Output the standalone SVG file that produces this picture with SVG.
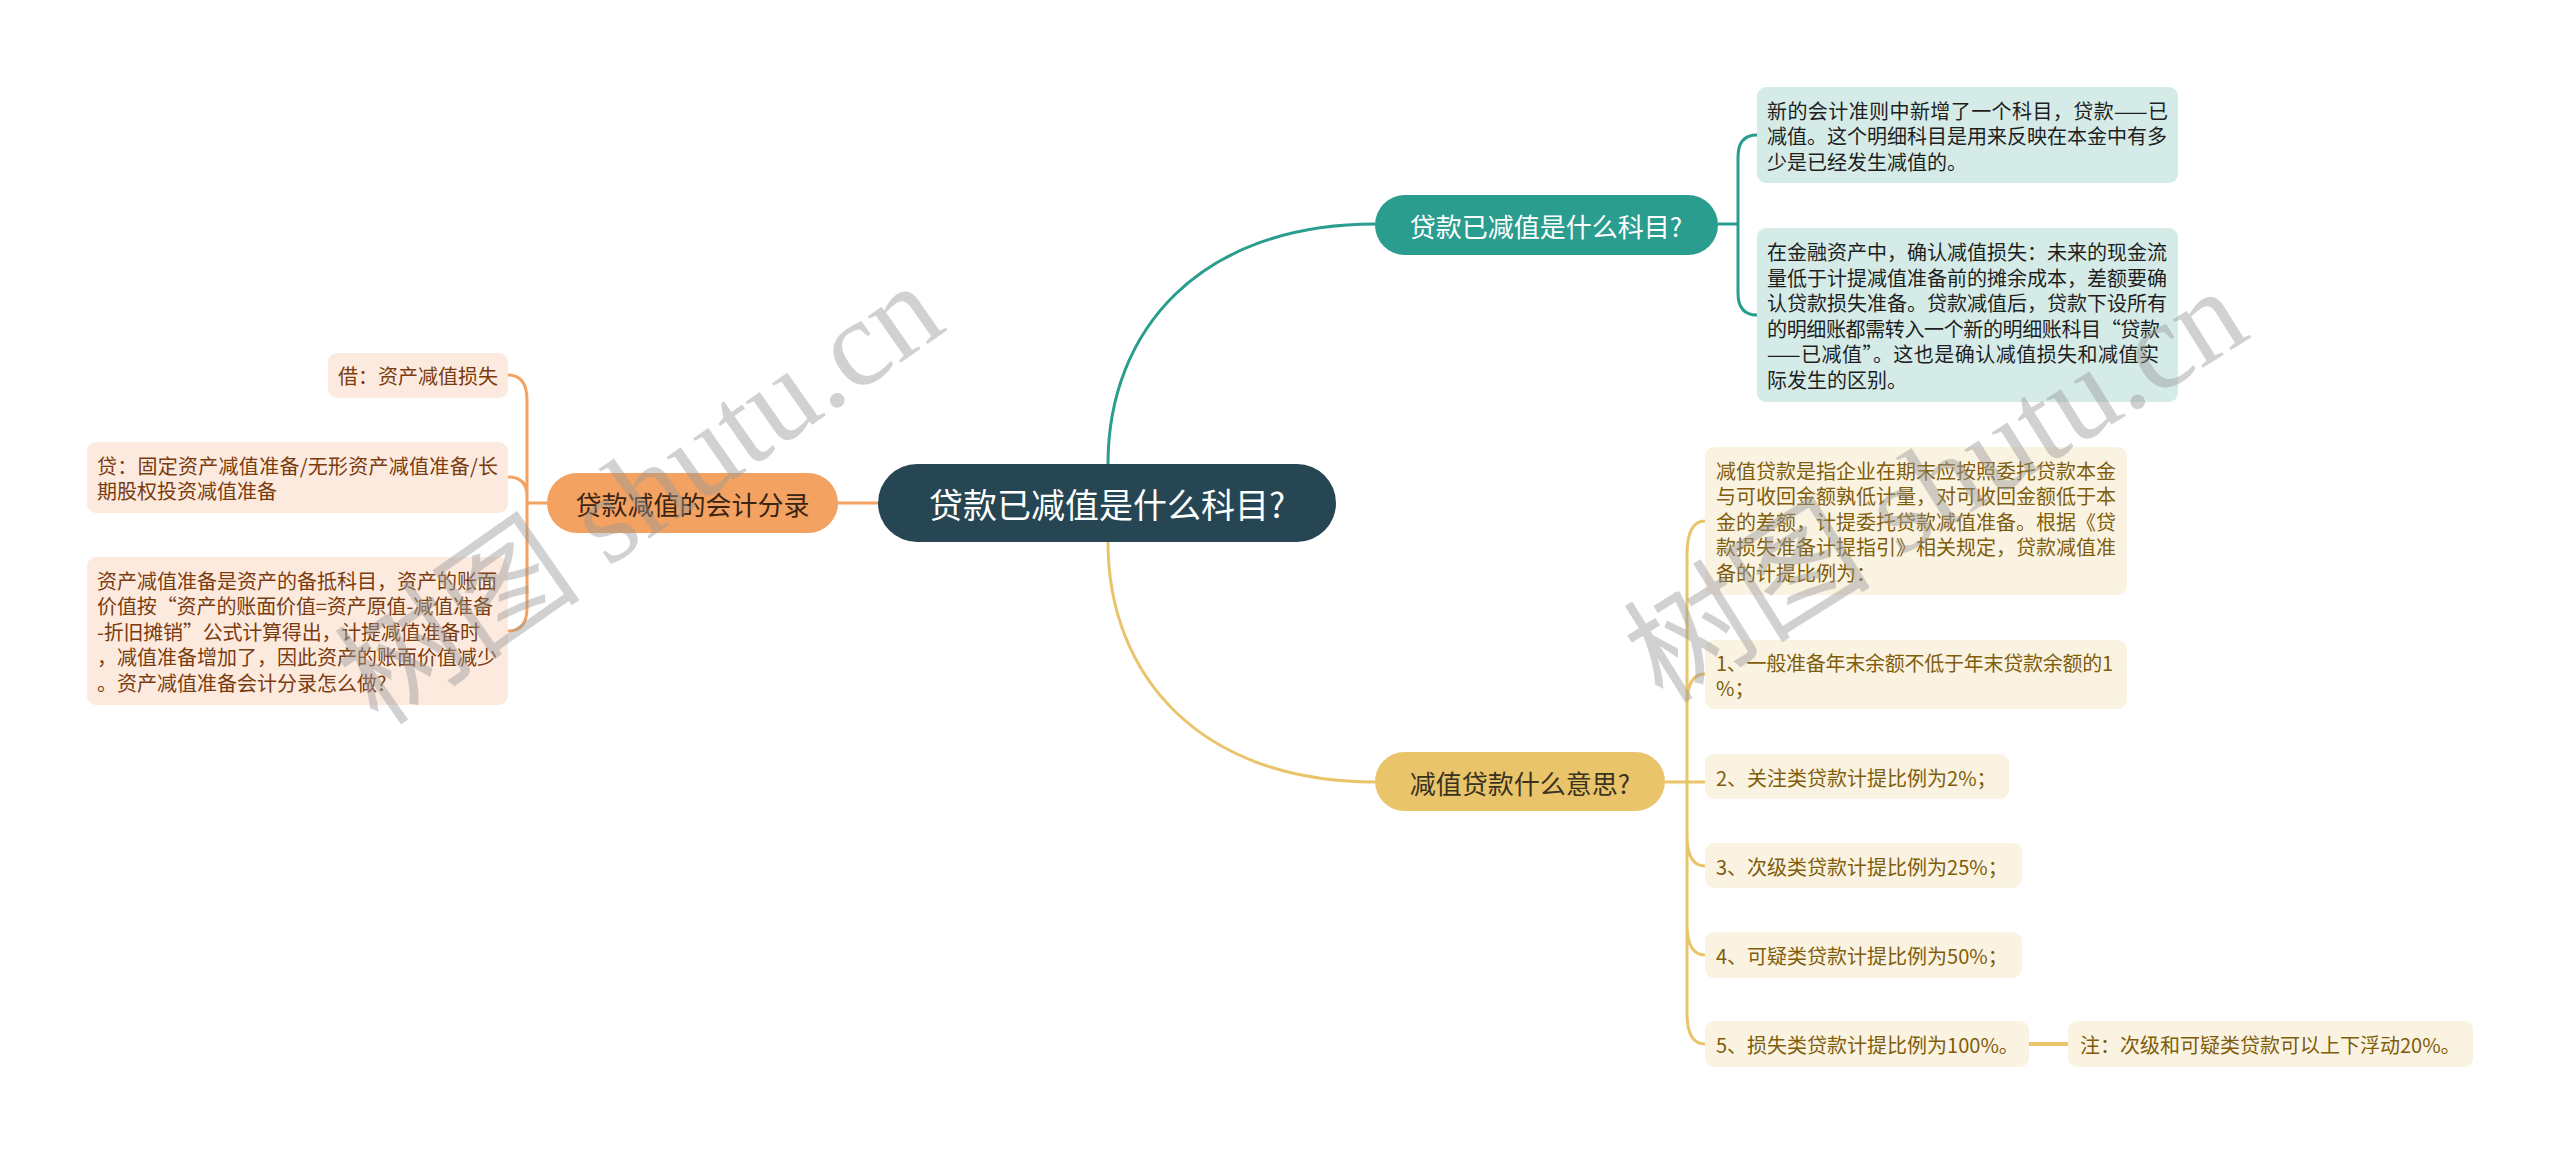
<svg xmlns="http://www.w3.org/2000/svg" width="2560" height="1153" viewBox="0 0 2560 1153">
<style>
text{font-family:"Noto Sans CJK SC","Noto Sans",sans-serif;dominant-baseline:central}
.t0{font-size:34px;fill:#ffffff;text-anchor:middle}
.t1{font-size:26px;text-anchor:middle}
.s{font-size:20px}
.tc{fill:#1e1e1e}
.yc{fill:#7f5d0a}
.oc{fill:#7a3b0e}
.cT{fill:none;stroke:#2a9d8f;stroke-width:3}
.cY{fill:none;stroke:#e9c46a;stroke-width:3}
.cO{fill:none;stroke:#f4a261;stroke-width:3}
.bT{fill:#d5ebe8}
.bY{fill:#fbf3e2}
.bO{fill:#fdeadf}
.wm{font-family:"Liberation Serif","Noto Sans CJK SC",serif;font-size:124px;fill:#9a9a9a;fill-opacity:0.45;dominant-baseline:auto}
</style>
<rect width="2560" height="1153" fill="#ffffff"/>
<g id="connectors">
<path class="cT" d="M1108,464 C1108,330 1200,224 1375,224"/>
<path class="cY" d="M1108,542 C1108,676 1200,782 1375,782"/>
<path class="cO" d="M838,503 H878"/>
<path class="cT" d="M1718,224 H1738 M1738,224 V157 Q1738,135 1757,135 M1738,224 V293 Q1738,315 1757,315"/>
<path class="cY" d="M1665,782 H1705 M1687,782 V555 Q1687,521 1705,521 M1687,782 V705 Q1687,674 1705,674 M1687,782 V835 Q1687,866 1705,866 M1687,782 V924 Q1687,955 1705,955 M1687,782 V1013 Q1687,1044 1705,1044"/>
<path class="cY" d="M2029,1044 H2068" style="stroke-width:4"/>
<path class="cO" d="M547,503 H527 M527,503 V400 Q527,375 508,375 M527,503 V496 Q527,477 508,477 M527,503 V608 Q527,631 508,631"/>
</g>
<g id="root">
<rect x="878" y="464" width="458" height="78" rx="39" fill="#264653"/>
<text class="t0" x="1107" y="503">贷款已减值是什么科目?</text>
</g>
<g id="n-teal">
<rect x="1375" y="195" width="343" height="60" rx="30" fill="#2a9d8f"/>
<text class="t1" x="1546" y="225" fill="#ffffff">贷款已减值是什么科目?</text>
</g>
<g id="n-teal-a">
<rect class="bT" x="1757" y="87" width="421" height="96" rx="9"/>
<text class="s tc" x="1767" y="110" textLength="401">新的会计准则中新增了一个科目，贷款——已</text>
<text class="s tc" x="1767" y="135.5">减值。这个明细科目是用来反映在本金中有多</text>
<text class="s tc" x="1767" y="161">少是已经发生减值的。</text>
</g>
<g id="n-teal-b">
<rect class="bT" x="1757" y="228" width="421" height="174" rx="9"/>
<text class="s tc" x="1767" y="251.5">在金融资产中，确认减值损失：未来的现金流</text>
<text class="s tc" x="1767" y="277">量低于计提减值准备前的摊余成本，差额要确</text>
<text class="s tc" x="1767" y="302.5">认贷款损失准备。贷款减值后，贷款下设所有</text>
<text class="s tc" x="1767" y="328" textLength="393">的明细账都需转入一个新的明细账科目“贷款</text>
<text class="s tc" x="1767" y="353.5" textLength="392">——已减值”。这也是确认减值损失和减值实</text>
<text class="s tc" x="1767" y="379">际发生的区别。</text>
</g>
<g id="n-yellow">
<rect x="1375" y="752" width="290" height="59" rx="29.5" fill="#e9c46a"/>
<text class="t1" x="1520" y="782" fill="#3a3220">减值贷款什么意思?</text>
</g>
<g id="n-y0">
<rect class="bY" x="1705" y="447" width="422" height="148" rx="9"/>
<text class="s yc" x="1716" y="470">减值贷款是指企业在期末应按照委托贷款本金</text>
<text class="s yc" x="1716" y="495.5">与可收回金额孰低计量，对可收回金额低于本</text>
<text class="s yc" x="1716" y="521">金的差额，计提委托贷款减值准备。根据《贷</text>
<text class="s yc" x="1716" y="546.5">款损失准备计提指引》相关规定，贷款减值准</text>
<text class="s yc" x="1716" y="572">备的计提比例为：</text>
</g>
<g id="n-y1">
<rect class="bY" x="1705" y="640" width="422" height="69" rx="9"/>
<text class="s yc" x="1716" y="662" textLength="397">1、一般准备年末余额不低于年末贷款余额的1</text>
<text class="s yc" x="1716" y="687.5">%；</text>
</g>
<g id="n-y2">
<rect class="bY" x="1705" y="754" width="304" height="45" rx="9"/>
<text class="s yc" x="1716" y="777">2、关注类贷款计提比例为2%；</text>
</g>
<g id="n-y3">
<rect class="bY" x="1705" y="843" width="317" height="45" rx="9"/>
<text class="s yc" x="1716" y="866">3、次级类贷款计提比例为25%；</text>
</g>
<g id="n-y4">
<rect class="bY" x="1705" y="932" width="317" height="46" rx="9"/>
<text class="s yc" x="1716" y="955">4、可疑类贷款计提比例为50%；</text>
</g>
<g id="n-y5">
<rect class="bY" x="1705" y="1021" width="324" height="46" rx="9"/>
<text class="s yc" x="1716" y="1044">5、损失类贷款计提比例为100%。</text>
</g>
<g id="n-y5-note">
<rect class="bY" x="2068" y="1021" width="405" height="46" rx="9"/>
<text class="s yc" x="2080" y="1044">注：次级和可疑类贷款可以上下浮动20%。</text>
</g>
<g id="n-orange">
<rect x="547" y="473" width="291" height="60" rx="30" fill="#f4a261"/>
<text class="t1" x="692.5" y="503" fill="#3a2414">贷款减值的会计分录</text>
</g>
<g id="n-o0">
<rect class="bO" x="328" y="353" width="180" height="45" rx="9"/>
<text class="s oc" x="338" y="375.5">借：资产减值损失</text>
</g>
<g id="n-o1">
<rect class="bO" x="87" y="442" width="421" height="71" rx="9"/>
<text class="s oc" x="97" y="465" textLength="401">贷：固定资产减值准备/无形资产减值准备/长</text>
<text class="s oc" x="97" y="490.5">期股权投资减值准备</text>
</g>
<g id="n-o2">
<rect class="bO" x="87" y="557" width="421" height="148" rx="9"/>
<text class="s oc" x="97" y="580">资产减值准备是资产的备抵科目，资产的账面</text>
<text class="s oc" x="97" y="605.5" textLength="396">价值按“资产的账面价值=资产原值-减值准备</text>
<text class="s oc" x="97" y="631" textLength="383">-折旧摊销”公式计算得出，计提减值准备时</text>
<text class="s oc" x="97" y="656.5">，减值准备增加了，因此资产的账面价值减少</text>
<text class="s oc" x="97" y="682">。资产减值准备会计分录怎么做?</text>
</g>
<g id="watermarks">
<text class="wm" transform="translate(379,728) rotate(-35)">树图 shutu.cn</text>
<text class="wm" transform="translate(1663,705) rotate(-32)">树图 shutu.cn</text>
</g>
</svg>
